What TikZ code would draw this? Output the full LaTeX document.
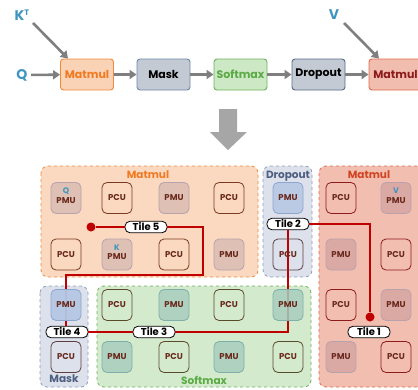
\documentclass[tikz,border=0pt]{standalone}
\usepackage{fontspec}
\setmainfont{Poppins}
\usetikzlibrary{arrows.meta}
\definecolor{qblue}{HTML}{3E95BF}
\definecolor{arrgray}{HTML}{7F7F7F}
\definecolor{bigarr}{HTML}{A6A6A6}
\definecolor{oFill}{HTML}{FAD2B6}
\definecolor{oDraw}{HTML}{F0893C}
\definecolor{oText}{HTML}{F07A22}
\definecolor{gFill}{HTML}{C4CAD4}
\definecolor{gDraw}{HTML}{6E86AA}
\definecolor{sFill}{HTML}{CDE8C5}
\definecolor{sDraw}{HTML}{6DB35C}
\definecolor{sText}{HTML}{5AAA45}
\definecolor{rFill}{HTML}{F0BDAE}
\definecolor{rDraw}{HTML}{E0694B}
\definecolor{rText}{HTML}{8E1B1B}
\definecolor{regO}{HTML}{FBD8C0}
\definecolor{regB}{HTML}{DCE1EC}
\definecolor{regBd}{HTML}{8D9BB8}
\definecolor{regBt}{HTML}{4E5E7E}
\definecolor{regS}{HTML}{D4EACC}
\definecolor{regR}{HTML}{F2BEB0}
\definecolor{regRt}{HTML}{D04422}
\definecolor{tileRed}{HTML}{C00000}
\definecolor{pcuO}{HTML}{7A3A22}
\definecolor{pcuS}{HTML}{5A4A2C}
\definecolor{pcuB}{HTML}{5E3E40}
\definecolor{pmuOf}{HTML}{D9BDB2}
\definecolor{pmuBf}{HTML}{B5C7E4}
\definecolor{pmuBd}{HTML}{8CA6CE}
\definecolor{pmuSf}{HTML}{A8CDBF}
\definecolor{pmuSd}{HTML}{7FAFAA}
\definecolor{pmuRf}{HTML}{D8A6A2}
\definecolor{pmuRd}{HTML}{B8A2AC}
\definecolor{ptext}{HTML}{6A2A1E}
\begin{document}
\begin{tikzpicture}[x=1pt,y=-1pt,
  op/.style={draw,rounded corners=3pt,minimum width=53pt,minimum height=31pt,inner sep=0pt,font=\fontsize{11}{12}\selectfont\bfseries,line width=0.9pt},
  flow/.style={draw=arrgray,line width=2.6pt,-{Triangle[length=7pt,width=9pt]}},
  region/.style={dashed,rounded corners=7pt,line width=0.8pt},
  unit/.style={rounded corners=5pt,minimum width=30pt,minimum height=31pt,inner sep=0pt,font=\fontsize{8.5}{9}\selectfont\bfseries,text=ptext,line width=0.8pt},
  pcu/.style={unit,draw=pcuO},
  pmu/.style={unit,draw=pmuRd,fill=pmuOf,fill opacity=0.85,text opacity=1},
  tile/.style={draw=black,fill=white,rounded corners=5pt,minimum width=42pt,minimum height=11.5pt,inner sep=0pt,font=\fontsize{10}{10}\selectfont\bfseries,line width=0.8pt},
  rlabel/.style={font=\fontsize{10.5}{11}\selectfont\bfseries},
  small/.style={font=\fontsize{8}{9}\selectfont\bfseries,text=qblue},
  utext/.style={font=\fontsize{8.5}{9}\selectfont\bfseries,text=ptext},
  tpath/.style={draw=tileRed,line width=1.4pt},
  dotn/.style={circle,fill=tileRed,minimum size=9pt,inner sep=0pt}]
\useasboundingbox (0,0) rectangle (418,389);
% ---- top flow ----
\node[font=\fontsize{14}{16}\selectfont\bfseries,text=qblue] (q) at (22,75) {Q};
\node[font=\fontsize{14}{16}\selectfont\bfseries,text=qblue] (k) at (22,15) {K\textsuperscript{\fontsize{8}{9}\selectfont T}};
\node[font=\fontsize{14}{16}\selectfont\bfseries,text=qblue] (v) at (334,15) {V};
\node[op,fill=oFill,draw=oDraw,text=oText] (m1) at (87,74.5) {Matmul};
\node[op,fill=gFill,draw=gDraw] (mask) at (163.5,74.5) {Mask};
\node[op,fill=sFill,draw=sDraw,text=sText] (soft) at (240.5,74.5) {Softmax};
\node[op,fill=gFill,draw=gDraw!80!black] (drop) at (318.5,74.5) {Dropout};
\node[op,fill=rFill,draw=rDraw,text=rText] (m2) at (395.5,74.5) {Matmul};
\coordinate (ks) at (33,23);
\coordinate (vs) at (344,23);
\draw[flow] (q) -- (m1);
\draw[flow] (m1) -- (mask);
\draw[flow] (mask) -- (soft);
\draw[flow] (soft) -- (drop);
\draw[flow] (drop) -- (m2);
\draw[flow] (ks) -- (m1.north -| 68,0);
\draw[flow] (vs) -- (m2.north -| 379,0);
% big arrow
\fill[bigarr] (219,109) -- (237,109) -- (237,132) -- (247,132) -- (228,150) -- (210,132) -- (219,132) -- cycle;
% ---- regions ----
\draw[region,fill=regO,draw=oDraw] (41,166) rectangle (258,277);
\draw[region,fill=regB,draw=regBd] (263,166) rectangle (312,277);
\draw[region,fill=regR,draw=rDraw] (319,166) rectangle (428,387);
\draw[region,fill=regB,draw=regBd] (40,286) rectangle (88,387);
\draw[region,fill=regS,draw=sDraw] (97,286) rectangle (311,387);
\node[rlabel,text=oText] (lm1) at (148,175) {Matmul};
\node[rlabel,text=regBt] (ldr) at (288,176) {Dropout};
\node[rlabel,text=regRt] (lm2) at (369,175) {Matmul};
\node[rlabel,text=regBt] (lma) at (64,379) {Mask};
\node[rlabel,text=sText] (lso) at (204,380) {Softmax};
% ---- tiles & path ----
\node[tile] (t5) at (146,227) {Tile 5};
\node[tile] (t2) at (288,224) {Tile 2};
\node[tile] (t4) at (67,332) {Tile 4};
\node[tile] (t3) at (154,332) {Tile 3};
\node[tile] (t1) at (369,332) {Tile 1};
\node[dotn] (d5) at (91,227) {};
\node[dotn] (d1) at (370,317) {};
\coordinate (a1) at (203,227);
\coordinate (a2) at (203,275);
\coordinate (a3) at (66,275);
\coordinate (a4) at (66,326);
\coordinate (b1) at (288,332);
\coordinate (c1) at (370,224);
\draw[tpath] (d5) -- (t5);
\draw[tpath] (t5.east) -- (a1) -- (a2) -- (a3) -- (a4);
\draw[tpath] (t4) -- (t3);
\draw[tpath] (t3.east) -- (b1) -- (t2.south);
\draw[tpath] (t2.east) -- (c1) -- (d1);
% ---- units: Matmul (orange) ----
\node[pmu] (u1) at (66,198) {};
\node[small] (uq) at (66,191) {Q};
\node[utext] (u1t) at (66,200.5) {PMU};
\node[pcu] (u2) at (117,198) {PCU};
\node[pmu] (u3) at (174,198) {PMU};
\node[pcu] (u4) at (229,198) {PCU};
\node[pcu] (u5) at (66,254.5) {PCU};
\node[pmu] (u6) at (117,254.5) {};
\node[small] (uk) at (117,248) {K};
\node[utext] (u6t) at (117,257) {PMU};
\node[pcu] (u7) at (174,254.5) {PCU};
\node[pmu] (u8) at (229,254.5) {PMU};
% Dropout
\node[pmu,fill=pmuBf,draw=pmuBd] (d1u) at (288,198) {PMU};
\node[pcu,draw=pcuB] (d2u) at (288,254.5) {PCU};
% Matmul (red)
\node[pcu,draw=rText] (r1) at (341,198) {PCU};
\node[pmu,fill=pmuRf,draw=pmuRd] (r2) at (396,198) {};
\node[small] (rv) at (396,191) {V};
\node[utext] (r2t) at (396,200.5) {PMU};
\node[pmu,fill=pmuRf,draw=pmuRd] (r3) at (341,254.5) {PMU};
\node[pcu,draw=rText] (r4) at (396,254.5) {PCU};
\node[pcu,draw=rText] (r5) at (341,305) {PCU};
\node[pmu,fill=pmuRf,draw=pmuRd] (r6) at (396,305) {PMU};
\node[pmu,fill=pmuRf,draw=pmuRd] (r7) at (341,357) {PMU};
\node[pcu,draw=rText] (r8) at (396,357) {PCU};
% Mask
\node[pmu,fill=pmuBf,draw=pmuBd,fill opacity=0.95] (k1) at (66,305) {PMU};
\node[pcu,draw=pcuB] (k2) at (66,357) {PCU};
% Softmax
\node[pcu,draw=pcuS] (s1) at (117,305) {PCU};
\node[pmu,fill=pmuSf,draw=pmuSd] (s2) at (174,305) {PMU};
\node[pcu,draw=pcuS] (s3) at (229,305) {PCU};
\node[pmu,fill=pmuSf,draw=pmuSd] (s4) at (288,305) {PMU};
\node[pmu,fill=pmuSf,draw=pmuSd] (s5) at (117,357) {PMU};
\node[pcu,draw=pcuS] (s6) at (174,357) {PCU};
\node[pmu,fill=pmuSf,draw=pmuSd] (s7) at (229,357) {PMU};
\node[pcu,draw=pcuS] (s8) at (288,357) {PCU};
\end{tikzpicture}
\end{document}
